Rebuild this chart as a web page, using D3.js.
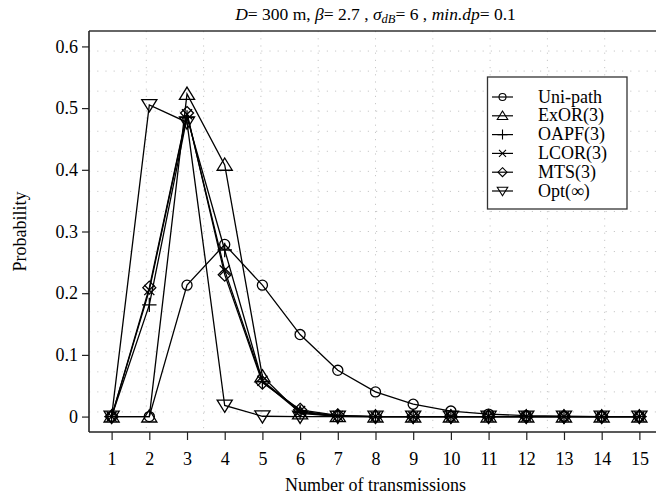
<!DOCTYPE html>
<html><head><meta charset="utf-8">
<script src="https://cdn.jsdelivr.net/npm/d3@7"></script>
<style>
body{margin:0;background:#fff;}
text{font-family:"Liberation Serif","Times New Roman",serif;fill:#000;}
</style></head>
<body><svg id="c" width="656" height="497"></svg>
<script>
const xValues = [1,2,3,4,5,6,7,8,9,10,11,12,13,14,15];
const seriesNames = ["Uni-path","ExOR(3)","OAPF(3)","LCOR(3)","MTS(3)","Opt(∞)"];
const uniPath = [0,0,0.213,0.279,0.213,0.133,0.075,0.040,0.020,0.009,0.004,0.0015,0.0005,0,0];
const exor    = [0,0,0.523,0.408,0.065,0.005,0.0005,0,0,0,0,0,0,0,0];
const oapf    = [0,0.181,0.485,0.270,0.057,0.007,0.0005,0,0,0,0,0,0,0,0];
const lcor    = [0,0.205,0.490,0.237,0.058,0.009,0.001,0,0,0,0,0,0,0,0];
const mts     = [0,0.209,0.492,0.230,0.055,0.011,0.002,0,0,0,0,0,0,0,0];
const opt     = [0,0.505,0.477,0.018,0.0005,0,0,0,0,0,0,0,0,0,0];
const markerTypes = ["circle","up","plus","cross","diamond","down"];
const yTicks = [0,0.1,0.2,0.3,0.4,0.5,0.6];
const xTicks = xValues;
const allSeries = [uniPath, exor, oapf, lcor, mts, opt];

const svg = d3.select("#c");
const L=89, R=662, T=31, B=432;
const x = d3.scaleLinear().domain([0.4,15.6]).range([L,R]);
const y = d3.scaleLinear().domain([-0.025,0.625]).range([B,T]);

// grid (dotted)
const g = svg.append("g");
d3.range(1,10).forEach(i=>{
  const px = L + i*(R-L)/10;
  g.append("line").attr("x1",px).attr("x2",px).attr("y1",T).attr("y2",B)
   .attr("stroke","#c8c8c8").attr("stroke-width",1).attr("stroke-dasharray","1.2,6");
});
d3.range(1,20).forEach(i=>{
  const py = T + i*(B-T)/20;
  g.append("line").attr("x1",L).attr("x2",R).attr("y1",py).attr("y2",py)
   .attr("stroke","#c8c8c8").attr("stroke-width",1).attr("stroke-dasharray","1.2,7");
});

// frame
svg.append("line").attr("x1",L).attr("x2",R).attr("y1",T).attr("y2",T).attr("stroke","#333").attr("stroke-width",1.3);

// axes
const xAxis = svg.append("g").attr("transform",`translate(0,${B})`)
  .call(d3.axisBottom(x).tickValues(xTicks).tickSize(8).tickSizeOuter(0).tickFormat(d3.format("d")));
const yAxis = svg.append("g").attr("transform",`translate(${L},0)`)
  .call(d3.axisLeft(y).tickValues(yTicks).tickSize(7).tickSizeOuter(0).tickFormat(d=> d===0?"0":d3.format(".1f")(d)));
[xAxis,yAxis].forEach(a=>{
  a.select(".domain").attr("stroke","#222").attr("stroke-width",1.6);
  a.selectAll(".tick line").attr("stroke","#222").attr("stroke-width",1.2);
  a.selectAll(".tick text").attr("font-family","Liberation Serif").attr("font-size",18).attr("fill","#000");
});
xAxis.selectAll(".tick text").attr("dy","1.2em");
yAxis.selectAll(".tick text").attr("x",-11);
xAxis.select(".domain").attr("d",`M${L},0H${R}`);
yAxis.select(".domain").attr("d",`M0,${T}V${B}`);

function markerPath(type, s){
  switch(type){
    case "circle": { const p=d3.path(); p.arc(0,0,s*0.7,0,2*Math.PI); return p.toString(); }
    case "up": return `M0,${-s*0.95}L${s*1.05},${s*0.75}L${-s*1.05},${s*0.75}Z`;
    case "down": return `M0,${s*0.95}L${s*1.05},${-s*0.75}L${-s*1.05},${-s*0.75}Z`;
    case "plus": return `M${-s},0H${s}M0,${-s}V${s}`;
    case "cross": return `M${-s*0.7},${-s*0.7}L${s*0.7},${s*0.7}M${-s*0.7},${s*0.7}L${s*0.7},${-s*0.7}`;
    case "diamond": return `M0,${-s*0.9}L${s*0.9},0L0,${s*0.9}L${-s*0.9},0Z`;
  }
}

const line = d3.line().x((d,i)=>x(xValues[i])).y(d=>y(d));
allSeries.forEach((vals,si)=>{
  svg.append("path").attr("d",line(vals)).attr("fill","none").attr("stroke","#000").attr("stroke-width",1.3);
  svg.append("g").selectAll("path").data(vals).join("path")
    .attr("transform",(d,i)=>`translate(${x(xValues[i])},${y(d)})`)
    .attr("d",markerPath(markerTypes[si],7.2))
    .attr("fill","none").attr("stroke","#000").attr("stroke-width",1.3);
});

// legend
const lg = svg.append("g");
lg.append("rect").attr("x",487.5).attr("y",77).attr("width",139.5).attr("height",132)
  .attr("fill","#fff").attr("stroke","#333").attr("stroke-width",1.3);
seriesNames.forEach((n,i)=>{
  const cy = 97 + i*18.8;
  lg.append("line").attr("x1",492).attr("x2",513).attr("y1",cy).attr("y2",cy).attr("stroke","#000").attr("stroke-width",1.2);
  lg.append("path").attr("transform",`translate(502.5,${cy})`).attr("d",markerPath(markerTypes[i],5))
    .attr("fill","none").attr("stroke","#000").attr("stroke-width",1.1);
  lg.append("text").attr("x",538).attr("y",cy+5.5).attr("font-size",18).text(n);
});

// title
const t = svg.append("text").attr("x",(L+R)/2).attr("y",20).attr("text-anchor","middle").attr("font-size",17.5);
t.append("tspan").attr("font-style","italic").text("D");
t.append("tspan").text("= 300 m, ");
t.append("tspan").attr("font-style","italic").text("β");
t.append("tspan").text("= 2.7 , ");
t.append("tspan").attr("font-style","italic").text("σ");
t.append("tspan").attr("font-style","italic").attr("font-size",12.5).attr("dy",3).text("dB");
t.append("tspan").attr("dy",-3).text("= 6 , ");
t.append("tspan").attr("font-style","italic").text("min.dp");
t.append("tspan").text("= 0.1");

// axis titles
svg.append("text").attr("x",(L+R)/2).attr("y",491).attr("text-anchor","middle").attr("font-size",18).text("Number of transmissions");
svg.append("text").attr("transform",`translate(26,${(T+B)/2}) rotate(-90)`).attr("text-anchor","middle").attr("font-size",18).text("Probability");
</script></body></html>
